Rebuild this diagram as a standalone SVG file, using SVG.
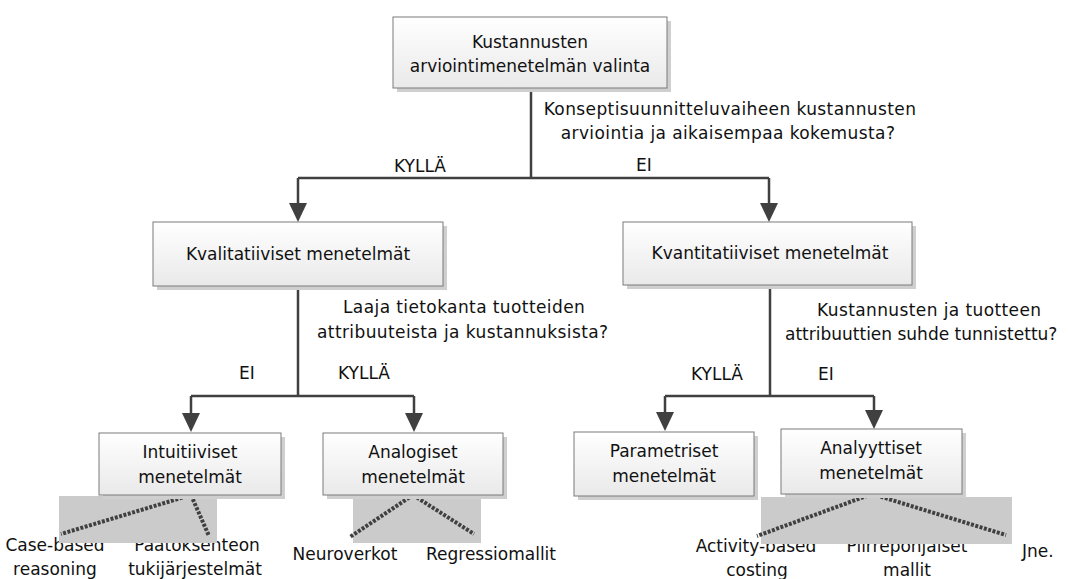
<svg xmlns="http://www.w3.org/2000/svg" width="1068" height="579" viewBox="0 0 1068 579">
<style>
  text { font-family: "DejaVu Sans", "Liberation Sans", sans-serif; font-size: 17px; fill: #111; }
  .c { text-anchor: middle; }
  .q { letter-spacing: 0.4px; }
  .box { fill: url(#g); stroke: #7a7a7a; stroke-width: 1; }
  .sh { fill: #cfcfcf; }
  .conn { fill: none; stroke: #404040; stroke-width: 2.5; }
  .arr { fill: #404040; }
  .dot { fill: none; stroke: #404040; stroke-width: 4; stroke-dasharray: 3 1.5; }
  .gray { fill: #cbcbcb; }
</style>
<defs>
  <linearGradient id="g" x1="0" y1="0" x2="0" y2="1">
    <stop offset="0" stop-color="#ffffff"/>
    <stop offset="1" stop-color="#e9e9e9"/>
  </linearGradient>
</defs>

<!-- leaf labels (partly covered by grey panels) -->
<g id="leaves">
  <text class="c" x="55" y="551">Case-based</text>
  <text class="c" x="55" y="575">reasoning</text>
  <text class="c" x="197" y="551">Päätöksenteon</text>
  <text class="c" x="195" y="575">tukijärjestelmät</text>
  <text class="c" x="345" y="560">Neuroverkot</text>
  <text class="c" x="491" y="560">Regressiomallit</text>
  <text class="c" x="756" y="552">Activity-based</text>
  <text class="c" x="757" y="576">costing</text>
  <text class="c" x="907" y="552">Piirrepohjaiset</text>
  <text class="c" x="907" y="576">mallit</text>
  <text x="1022" y="557">Jne.</text>
</g>

<!-- grey panels with dotted branches -->
<g id="panels">
  <rect class="gray" x="59" y="496" width="158" height="47"/>
  <rect class="gray" x="353" y="497" width="128" height="46"/>
  <rect class="gray" x="761" y="497" width="251" height="47"/>
  <path class="dot" d="M191,495 L61,534 M191,495 L209,536"/>
  <path class="dot" d="M413,495 L350,537 M413,495 L474,534"/>
  <path class="dot" d="M872,494 L757,536 M872,494 L1006,535"/>
</g>

<!-- connectors -->
<g id="connectors">
  <path class="conn" d="M531,88 V178 M298,178 H769 M298,178 V205 M769,178 V205"/>
  <polygon class="arr" points="289,203 307,203 298,222"/>
  <polygon class="arr" points="760,203 778,203 769,222"/>
  <path class="conn" d="M298,286 V396 M191,396 H414 M191,396 V415 M414,396 V415"/>
  <polygon class="arr" points="182,413 200,413 191,432"/>
  <polygon class="arr" points="405,413 423,413 414,432"/>
  <path class="conn" d="M770,285 V396 M665,396 H874 M665,396 V413 M874,396 V411"/>
  <polygon class="arr" points="656,412 674,412 665,431"/>
  <polygon class="arr" points="865,410 883,410 874,429"/>
  <text class="c" x="420" y="172">KYLLÄ</text>
  <text class="c" x="644" y="171">EI</text>
  <text class="c q" x="730" y="115">Konseptisuunnitteluvaiheen kustannusten</text>
  <text class="c q" x="728" y="139">arviointia ja aikaisempaa kokemusta?</text>
  <text class="q" x="343" y="313">Laaja tietokanta tuotteiden</text>
  <text class="q" x="317" y="338">attribuuteista ja kustannuksista?</text>
  <text class="c" x="247" y="379">EI</text>
  <text class="c" x="364" y="379">KYLLÄ</text>
  <text class="q" x="817" y="316">Kustannusten ja tuotteen</text>
  <text x="785" y="340">attribuuttien suhde tunnistettu?</text>
  <text class="c" x="717" y="380">KYLLÄ</text>
  <text class="c" x="826" y="380">EI</text>
</g>

<g id="n-root">
  <rect class="sh" x="397" y="21" width="274" height="71"/>
  <rect class="box" x="393" y="17" width="274" height="71"/>
  <text class="c" x="530" y="48">Kustannusten</text>
  <text class="c" x="530" y="72">arviointimenetelmän valinta</text>
</g>
<g id="n-kval">
  <rect class="sh" x="157" y="226" width="290" height="64"/>
  <rect class="box" x="153" y="222" width="290" height="64"/>
  <text class="c" x="298" y="260">Kvalitatiiviset menetelmät</text>
</g>
<g id="n-kvant">
  <rect class="sh" x="627" y="226" width="289" height="63"/>
  <rect class="box" x="623" y="222" width="289" height="63"/>
  <text class="c" x="770" y="259">Kvantitatiiviset menetelmät</text>
</g>
<g id="n-intu">
  <rect class="sh" x="103" y="437" width="182" height="62"/>
  <rect class="box" x="99" y="433" width="182" height="62"/>
  <text class="c" x="190" y="458">Intuitiiviset</text>
  <text class="c" x="190" y="483">menetelmät</text>
</g>
<g id="n-analog">
  <rect class="sh" x="327" y="437" width="180" height="62"/>
  <rect class="box" x="323" y="433" width="180" height="62"/>
  <text class="c" x="413" y="458">Analogiset</text>
  <text class="c" x="413" y="483">menetelmät</text>
</g>
<g id="n-param">
  <rect class="sh" x="578" y="436" width="180" height="64"/>
  <rect class="box" x="574" y="432" width="180" height="64"/>
  <text class="c" x="664" y="457">Parametriset</text>
  <text class="c" x="664" y="482">menetelmät</text>
</g>
<g id="n-analyy">
  <rect class="sh" x="785" y="433" width="181" height="65"/>
  <rect class="box" x="781" y="429" width="181" height="65"/>
  <text class="c" x="871" y="454">Analyyttiset</text>
  <text class="c" x="871" y="479">menetelmät</text>
</g>
</svg>
